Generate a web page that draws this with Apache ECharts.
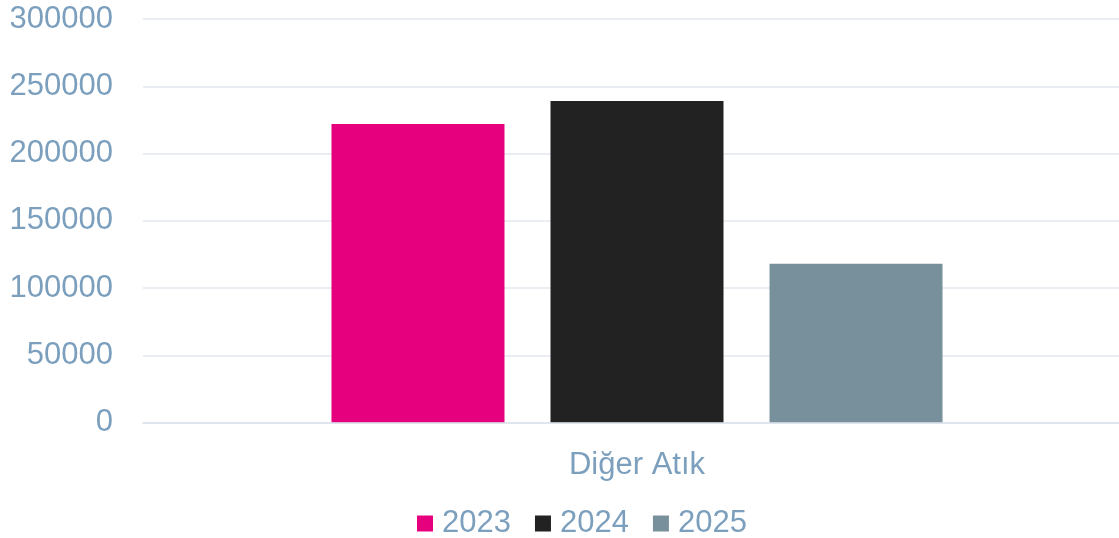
<!DOCTYPE html>
<html>
<head>
<meta charset="utf-8">
<script src="https://cdn.jsdelivr.net/npm/echarts@6/dist/echarts.min.js"></script>
<style>
html,body{margin:0;padding:0;background:#fff;overflow:hidden;width:1119px;height:538px;}
#chart{width:1131px;height:538px;}
</style>
</head>
<body>
<div id="chart"></div>
<script>
const categories = ['Diğer Atık'];
const seriesNames = ['2023', '2024', '2025'];
const values2023 = [222000];
const values2024 = [239000];
const values2025 = [118000];
const yTicks = [0, 50000, 100000, 150000, 200000, 250000, 300000];
const colors = ['#E6007E', '#222222', '#78909C'];

const chart = echarts.init(document.getElementById('chart'), null, {renderer: 'canvas'});
const labelColor = '#7B9FBD';
const font = 'Liberation Sans, Arial, sans-serif';
const seriesData = [values2023, values2024, values2025];

chart.setOption({
  animation: false,
  color: colors,
  grid: {left: 143, right: 0, top: 19, bottom: 115.5, containLabel: false},
  legend: {
    data: seriesNames,
    left: 412,
    top: 503,
    itemWidth: 16,
    itemHeight: 16,
    itemGap: 24,
    icon: 'rect',
    textStyle: {color: labelColor, fontSize: 31, fontFamily: font, padding: [0, 0, 0, 4]}
  },
  xAxis: {
    type: 'category',
    data: categories,
    z: 5,
    axisLine: {show: true, lineStyle: {color: 'rgba(214,222,232,0.6)', width: 2}},
    axisTick: {show: false},
    axisLabel: {color: labelColor, fontSize: 31, fontFamily: font, margin: 27}
  },
  yAxis: {
    type: 'value',
    min: yTicks[0],
    max: yTicks[yTicks.length - 1],
    interval: yTicks[1] - yTicks[0],
    axisLine: {show: false},
    axisTick: {show: false},
    splitLine: {lineStyle: {color: '#E3E8EE', width: 1.6}},
    axisLabel: {color: labelColor, fontSize: 31, fontFamily: font, margin: 30,
      formatter: function (v) { return String(v); }}
  },
  series: seriesNames.map((name, i) => ({
    name: name,
    type: 'bar',
    data: seriesData[i],
    barWidth: 173,
    barGap: '26.6%',
    itemStyle: {color: colors[i]}
  }))
});
</script>
</body>
</html>
